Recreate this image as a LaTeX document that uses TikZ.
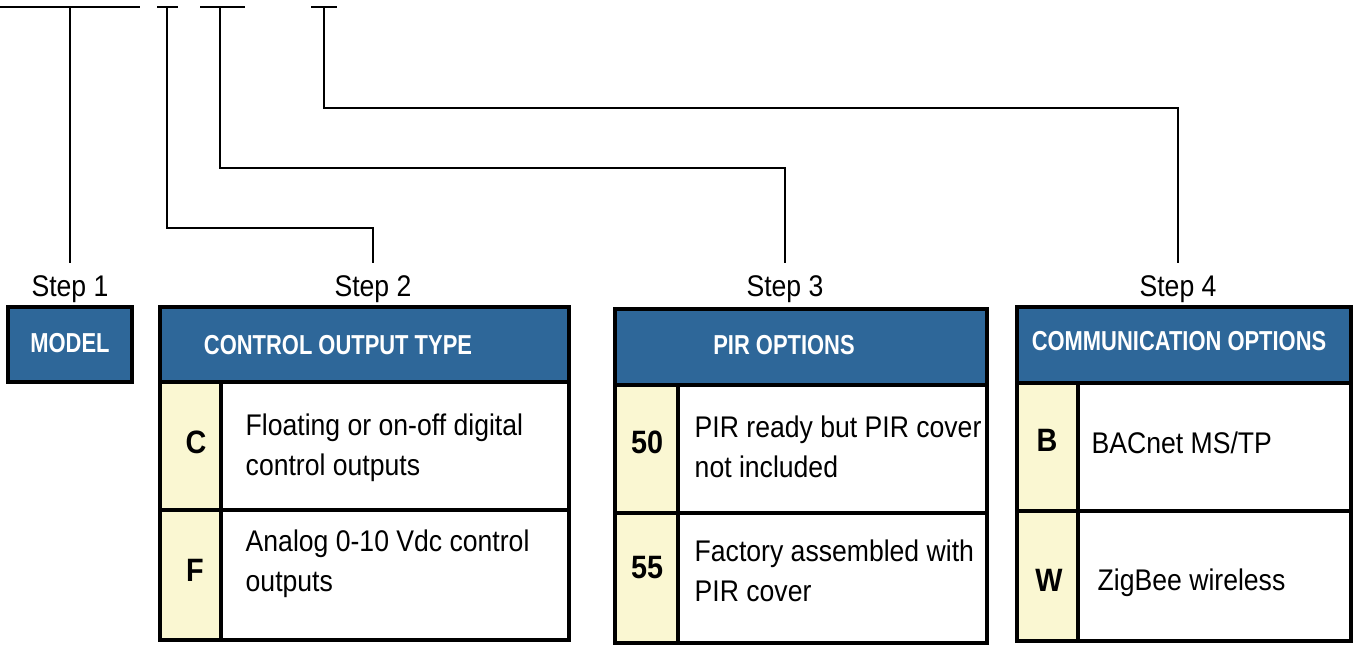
\documentclass[tikz,border=0pt]{standalone}
\usepackage{fontspec}
\setmainfont{Liberation Sans}[FakeStretch=0.89]
\newfontfamily\headfont{Liberation Sans}[FakeStretch=0.8]

\definecolor{hdrblue}{RGB}{46,103,153}
\definecolor{keyyellow}{RGB}{250,247,210}

\tikzset{
  lead/.style={line width=0.6pt},
  frame/.style={line width=0.9pt},
  hdr/.style={font=\headfont\fontsize{7.8}{9}\selectfont\bfseries, text=white},
  steplbl/.style={font=\fontsize{8.5}{10}\selectfont},
  keylbl/.style={font=\fontsize{9.2}{11}\selectfont\bfseries},
  desc/.style={font=\fontsize{8.5}{11.4}\selectfont, align=left, anchor=west, inner sep=0pt}
}

\begin{document}
\begin{tikzpicture}[x=1cm,y=-1cm]
\useasboundingbox (0,0) rectangle (13.55,6.46);

% underlines of the part number
\draw[lead] (0,0.07) -- (1.40,0.07);
\draw[lead] (1.57,0.07) -- (1.78,0.07);
\draw[lead] (2.00,0.07) -- (2.45,0.07);
\draw[lead] (3.11,0.07) -- (3.37,0.07);
\coordinate (u1) at (0.70,0.07);
\coordinate (u2) at (1.67,0.07);
\coordinate (u3) at (2.20,0.07);
\coordinate (u4) at (3.24,0.07);

% step labels
\node[steplbl] (s1) at (0.70,2.89) {Step 1};
\node[steplbl] (s2) at (3.73,2.89) {Step 2};
\node[steplbl] (s3) at (7.85,2.89) {Step 3};
\node[steplbl] (s4) at (11.78,2.89) {Step 4};

% leaders
\draw[lead] (u1) -- (s1);
\draw[lead] (u2) |- (3.73,2.28) -- (s2);
\draw[lead] (u3) |- (7.85,1.68) -- (s3);
\draw[lead] (u4) |- (11.78,1.08) -- (s4);

% step 1
\fill[hdrblue] (0.08,3.07) rectangle (1.32,3.82);
\draw[frame] (0.08,3.07) rectangle (1.32,3.82);
\node[hdr] (model) at (0.70,3.43) {MODEL};

% step 2
\fill[hdrblue] (1.60,3.07) rectangle (5.69,3.82);
\fill[keyyellow] (1.60,3.82) rectangle (2.21,6.40);
\draw[frame] (1.60,3.07) rectangle (5.69,6.40);
\draw[frame] (1.60,3.82) -- (5.69,3.82);
\draw[frame] (1.60,5.10) -- (5.69,5.10);
\draw[frame] (2.21,3.82) -- (2.21,6.40);
\node[hdr] (outhdr) at (3.38,3.45) {CONTROL OUTPUT TYPE};
\node[keylbl] (keyc) at (1.96,4.42) {C};
\node[desc] (descc) at (2.45,4.48) {Floating or on-off digital\\control outputs};
\node[keylbl] (keyf) at (1.95,5.70) {F};
\node[desc] (descf) at (2.45,5.64) {Analog 0-10 Vdc control\\outputs};

% step 3
\fill[hdrblue] (6.15,3.09) rectangle (9.87,3.85);
\fill[keyyellow] (6.15,3.85) rectangle (6.78,6.43);
\draw[frame] (6.15,3.09) rectangle (9.87,6.43);
\draw[frame] (6.15,3.85) -- (9.87,3.85);
\draw[frame] (6.15,5.13) -- (9.87,5.13);
\draw[frame] (6.78,3.85) -- (6.78,6.43);
\node[hdr] (pirhdr) at (7.84,3.45) {PIR OPTIONS};
\node[keylbl] (key50) at (6.47,4.42) {50};
\node[desc] (desc50) at (6.94,4.47) {PIR ready but PIR cover\\not included};
\node[keylbl] (key55) at (6.47,5.68) {55};
\node[desc] (desc55) at (6.94,5.71) {Factory assembled with\\PIR cover};

% step 4
\fill[hdrblue] (10.17,3.07) rectangle (13.51,3.83);
\fill[keyyellow] (10.17,3.83) rectangle (10.78,6.41);
\draw[frame] (10.17,3.07) rectangle (13.51,6.41);
\draw[frame] (10.17,3.83) -- (13.51,3.83);
\draw[frame] (10.17,5.11) -- (13.51,5.11);
\draw[frame] (10.78,3.83) -- (10.78,6.41);
\node[hdr] (comhdr) at (11.79,3.41) {COMMUNICATION OPTIONS};
\node[keylbl] (keyb) at (10.47,4.40) {B};
\node[desc] (descb) at (10.91,4.43) {BACnet MS/TP};
\node[keylbl] (keyw) at (10.49,5.80) {W};
\node[desc] (descw) at (10.97,5.83) {ZigBee wireless};
\end{tikzpicture}
\end{document}
